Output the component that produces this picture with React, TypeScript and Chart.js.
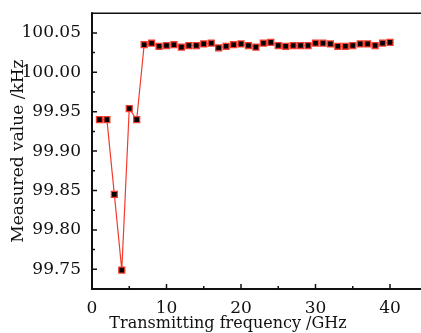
import React, { useEffect, useRef } from "react";
import { Chart, registerables } from "chart.js";

Chart.register(...registerables);

const frequencies = [
  1, 2, 3, 4, 5, 6, 7, 8, 9, 10, 11, 12, 13, 14, 15, 16, 17, 18, 19, 20,
  21, 22, 23, 24, 25, 26, 27, 28, 29, 30, 31, 32, 33, 34, 35, 36, 37, 38, 39, 40,
];
const measured = [
  99.94, 99.94, 99.845, 99.749, 99.954, 99.94, 100.035, 100.037, 100.033, 100.034,
  100.035, 100.032, 100.034, 100.034, 100.036, 100.037, 100.031, 100.033, 100.035, 100.036,
  100.034, 100.032, 100.037, 100.038, 100.034, 100.033, 100.034, 100.034, 100.034, 100.037,
  100.037, 100.036, 100.033, 100.033, 100.034, 100.036, 100.036, 100.034, 100.037, 100.038,
];
const xTickValues = [0, 10, 20, 30, 40];
const xMinorTicks = [5, 15, 25, 35];
const yTickValues = [99.75, 99.8, 99.85, 99.9, 99.95, 100.0, 100.05];
const yMinorTicks = [99.775, 99.825, 99.875, 99.925, 99.975, 100.025];
const xTitle = "Transmitting frequency /GHz";
const yTitle = "Measured value /kHz";

const FONT = "'DejaVu Serif', serif";

const framePlugin = {
  id: "frame",
  afterDraw(chart: any) {
    const { ctx, chartArea } = chart;
    const xs = chart.scales.x;
    const ys = chart.scales.y;
    ctx.save();
    ctx.strokeStyle = "#111";
    ctx.lineCap = "square";
    ctx.lineWidth = 2;
    ctx.beginPath();
    ctx.moveTo(chartArea.left, chartArea.top);
    ctx.lineTo(chartArea.left, chartArea.bottom);
    ctx.lineTo(chartArea.right, chartArea.bottom);
    ctx.stroke();
    ctx.lineWidth = 1.5;
    ctx.beginPath();
    ctx.moveTo(chartArea.left, chartArea.top);
    ctx.lineTo(chartArea.right, chartArea.top);
    ctx.stroke();
    ctx.lineWidth = 1.5;
    ctx.lineCap = "butt";
    ctx.beginPath();
    xTickValues.forEach((v) => {
      const px = xs.getPixelForValue(v);
      ctx.moveTo(px, chartArea.bottom);
      ctx.lineTo(px, chartArea.bottom - 5);
    });
    xMinorTicks.forEach((v) => {
      const px = xs.getPixelForValue(v);
      ctx.moveTo(px, chartArea.bottom);
      ctx.lineTo(px, chartArea.bottom - 3);
    });
    yTickValues.forEach((v) => {
      const py = ys.getPixelForValue(v);
      ctx.moveTo(chartArea.left, py);
      ctx.lineTo(chartArea.left + 5, py);
    });
    yMinorTicks.forEach((v) => {
      const py = ys.getPixelForValue(v);
      ctx.moveTo(chartArea.left, py);
      ctx.lineTo(chartArea.left + 3, py);
    });
    ctx.stroke();
    ctx.fillStyle = "#111";
    ctx.font = `16px ${FONT}`;
    ctx.textAlign = "center";
    ctx.textBaseline = "alphabetic";
    ctx.fillText(xTitle, chartArea.left + 136, chartArea.bottom + 39);
    ctx.restore();
  },
};

export default function App() {
  const canvasRef = useRef<HTMLCanvasElement | null>(null);

  useEffect(() => {
    const canvas = canvasRef.current;
    if (!canvas) return;
    const chart = new Chart(canvas, {
      type: "line",
      data: {
        datasets: [
          {
            data: frequencies.map((f, i) => ({ x: f, y: measured[i] })),
            borderColor: "#f23a2e",
            borderWidth: 1.2,
            pointStyle: "rect",
            pointRadius: 4.2,
            pointBorderWidth: 1.3,
            pointBackgroundColor: "#000",
            pointBorderColor: "#f23a2e",
            tension: 0,
          },
        ],
      },
      options: {
        responsive: false,
        animation: false,
        layout: { autoPadding: false, padding: { top: 11, left: 0, right: 0, bottom: 0 } },
        plugins: { legend: { display: false }, tooltip: { enabled: false } },
        scales: {
          x: {
            type: "linear",
            min: 0,
            max: 44.16,
            grid: { display: false },
            border: { display: false },
            afterBuildTicks: (scale: any) => {
              scale.ticks = xTickValues.map((v) => ({ value: v }));
            },
            afterFit: (scale: any) => {
              scale.height = 44;
            },
            ticks: {
              color: "#111",
              padding: 1,
              maxRotation: 0,
              autoSkip: false,
              font: { family: FONT, size: 17 },
            },
            title: { display: false },
          },
          y: {
            type: "linear",
            min: 99.725,
            max: 100.075,
            grid: { display: false },
            border: { display: false },
            afterBuildTicks: (scale: any) => {
              scale.ticks = yTickValues.map((v) => ({ value: v }));
            },
            afterFit: (scale: any) => {
              scale.width = 92;
            },
            ticks: {
              color: "#111",
              padding: 3,
              autoSkip: false,
              font: { family: FONT, size: 17 },
              callback: (v: any) => Number(v).toFixed(2),
            },
            title: {
              display: true,
              text: yTitle,
              color: "#111",
              font: { family: FONT, size: 17, lineHeight: 1.2 },
              padding: { top: 8, bottom: 0 },
            },
          },
        },
      },
      plugins: [framePlugin],
    });
    return () => chart.destroy();
  }, []);

  return (
    <div style={{ position: "fixed", left: 0, top: 0, width: 421, height: 333, background: "#fff" }}>
      <canvas ref={canvasRef} width={421} height={333} style={{ display: "block" }} />
    </div>
  );
}
